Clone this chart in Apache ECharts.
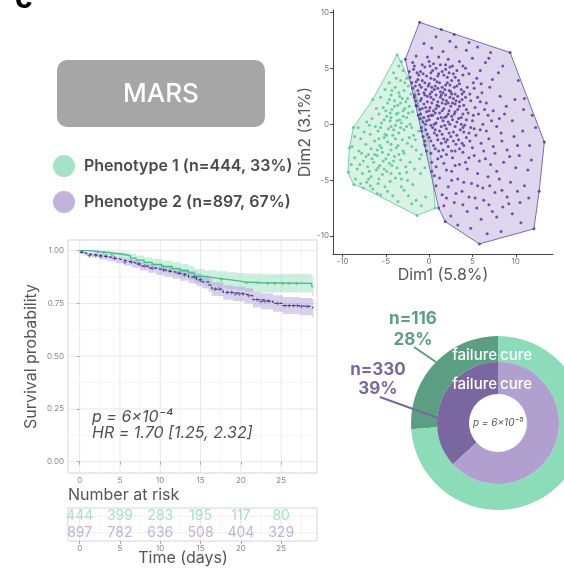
<!DOCTYPE html>
<html><head><meta charset="utf-8">
<script src="https://cdn.jsdelivr.net/npm/echarts@6/dist/echarts.min.js"></script>
<style>html,body{margin:0;padding:0;background:#fff}#c{width:564px;height:570px}</style>
</head><body><div id="c"></div>
<script>
// ---------- DATA ----------
const groupNames = ['Phenotype 1 (n=444, 33%)', 'Phenotype 2 (n=897, 67%)'];

// Scatter (Dim1, Dim2) – flat x,y lists
const greenPts = [-3.7,6.2,-3.5,5.2,-4.1,4.6,-3.0,4.8,-2.6,4.1,-3.3,3.9,-4.6,3.7,-3.9,3.3,-2.4,3.4,-5.1,3.1,-2.9,3.0,-3.5,2.8,-4.4,2.6,-2.1,2.7,-5.6,2.4,-3.1,2.3,-4.0,2.1,-2.7,2.0,-4.8,1.9,-3.6,1.7,-2.3,1.6,-5.3,1.5,-6.1,1.4,-4.3,1.3,-3.0,1.2,-1.9,1.1,-5.8,0.9,-3.8,0.9,-4.9,0.7,-2.6,0.6,-6.6,0.5,-3.4,0.4,-4.5,0.3,-7.2,0.2,-5.5,0.1,-2.2,0.0,-3.9,-0.1,-6.2,-0.2,-8.2,-0.3,-4.7,-0.4,-2.9,-0.5,-5.9,-0.6,-7.5,-0.7,-3.5,-0.8,-6.8,-0.9,-4.2,-1.0,-1.8,-1.0,-8.6,-1.1,-5.2,-1.2,-7.9,-1.3,-3.1,-1.4,-6.3,-1.5,-4.8,-1.6,-2.5,-1.7,-7.3,-1.8,-5.7,-1.9,-8.9,-2.0,-3.8,-2.1,-6.7,-2.2,-4.4,-2.3,-1.5,-2.3,-8.1,-2.4,-5.4,-2.5,-2.9,-2.6,-7.0,-2.7,-6.0,-2.8,-4.0,-2.9,-8.6,-3.0,-5.0,-3.1,-3.3,-3.2,-7.6,-3.3,-6.4,-3.4,-2.2,-3.4,-4.6,-3.5,-9.0,-3.6,-5.7,-3.7,-7.1,-3.8,-3.7,-3.9,-8.3,-4.0,-6.1,-4.1,-4.9,-4.2,-2.6,-4.3,-7.7,-4.4,-5.4,-4.5,-9.3,-4.3,-6.7,-4.7,-3.9,-4.8,-8.5,-4.9,-4.5,-5.1,-7.2,-5.2,-5.9,-5.3,-1.9,-5.4,-3.2,-5.6,-8.7,-5.4,-6.5,-5.8,-4.8,-6.0,-2.4,-6.4,-5.6,-6.3,-1.5,-6.8,-3.6,-6.9,-0.4,-6.5,-1.4,-8.15,0.7,-7.5,-9.2,-2.1,-8.75,-0.3,-6.5,2.2,-0.6,-1.8,-1.1,-3.1,-0.9,0.4,-1.3,1.9,-3.2,0.1,-4.1,-0.5,-2.0,-0.3,-5.1,-0.9,-3.6,-1.9,-6.9,-0.1,-7.8,-2.6,-4.5,1.0,-3.0,-2.4,-5.5,-2.1,-6.6,-3.1,-4.3,-3.7,-7.0,-4.9,-5.2,-4.0,-3.4,-4.4,-2.0,-2.0,-1.2,-0.6,-2.5,-5.0,-6.0,-6.2,-7.9,-5.3,-7.6,-5.7,
 -3.2,5.6,-3.8,4.1,-2.8,3.7,-4.3,3.0,-3.4,2.5,-2.5,2.3,-4.6,2.2,-3.3,1.9,-5.0,1.2,-4.0,1.6,-2.8,1.4,-3.6,1.0,-2.4,1.0,-4.4,0.6,-3.0,0.7,-5.2,0.4,-3.7,0.3,-2.6,-0.2,-4.4,-0.2,-5.6,-0.3,-3.3,-0.3,-4.9,-1.0,-3.9,-1.3,-2.3,-1.2,-5.8,-1.3,-4.4,-1.8,-6.0,-2.3,-3.5,-2.7,-4.7,-2.7,-6.3,-2.7,-5.3,-3.3,-7.3,-2.9,-4.1,-3.3,-2.7,-3.8,-5.9,-3.9,-6.9,-4.2,-4.4,-4.4,-8.0,-3.6,-3.2,-4.9,-5.8,-4.9,-5.1,-5.6,-6.8,-5.5,-2.9,-5.9,-4.2,-6.4,-2.0,-7.1,-0.9,-7.3,-1.0,-4.4,-1.7,-4.0,-0.5,-3.9,-1.6,-1.4,-0.9,-2.7];
const purplePts = [-1.8,4.9,-1.2,4.4,-0.5,5.1,0.2,4.6,0.8,5.0,1.5,4.7,2.1,4.2,-1.5,3.8,-0.8,3.9,0.0,3.6,0.6,4.0,1.2,3.7,1.9,3.5,2.6,3.9,3.2,3.4,-1.9,3.2,-1.3,3.0,-0.4,3.1,0.3,2.9,1.0,3.2,1.6,2.8,2.3,3.0,3.0,2.7,3.7,3.1,-1.7,2.4,-0.9,2.3,-0.2,2.5,0.5,2.2,1.3,2.4,2.0,2.1,2.8,2.3,3.5,2.0,4.2,2.4,-1.5,1.7,-1.4,1.6,-0.6,1.8,0.1,1.5,0.9,1.7,1.7,1.4,2.5,1.6,3.3,1.3,4.0,1.7,-1.25,0.8,-1.0,0.9,-0.3,1.1,0.4,0.8,1.2,1.0,2.0,0.7,2.9,0.9,3.7,0.6,4.5,1.0,-1.05,0.5,-0.7,0.2,0.0,0.4,0.8,0.1,1.6,0.3,2.4,0.0,3.2,0.2,4.1,-0.1,5.0,0.3,-0.85,-0.6,-0.4,-0.5,0.4,-0.3,1.2,-0.6,2.0,-0.4,2.8,-0.7,3.6,-0.5,4.6,-0.8,-0.7,-1.1,0.0,-1.2,0.9,-1.0,1.7,-1.3,2.5,-1.1,3.4,-1.4,4.3,-1.2,-0.45,-1.9,0.5,-1.9,1.4,-1.7,2.2,-2.0,3.1,-1.8,-1.0,4.7,0.5,5.4,1.9,4.9,-0.3,4.3,1.0,4.3,2.8,4.5,-1.1,3.5,0.7,3.4,2.4,3.5,0.1,2.7,1.8,3.1,-0.6,2.8,2.6,2.7,-0.2,2.0,1.0,2.0,2.2,1.9,3.0,1.8,-1.1,1.3,0.5,1.2,1.5,1.9,2.3,1.2,-0.1,0.7,1.4,0.6,2.7,0.4,0.6,-0.8,1.8,-0.1,-1.55,2.1,-1.7,2.6,-2.2,4.2,-2.0,3.7,-0.9,-0.3,0.2,-0.1,-0.5,-1.5,-0.3,-2.4,0.2,-2.6,1.1,-2.4,2.0,-2.7,0.3,3.3,1.4,2.6,0.8,1.4,-0.4,0.0,3.8,2.7,4.8,2.1,5.3,1.5,4.4,3.3,3.4,3.9,
 -1.1,9.1,1.4,8.45,0.8,7.8,2.4,7.4,-0.6,7.2,0.3,6.8,1.6,6.5,3.1,6.9,4.3,6.6,-1.5,6.1,-0.2,6.0,1.1,6.0,2.2,5.8,3.5,5.6,5.0,5.9,-2.75,5.8,-1.9,5.5,0.0,5.6,2.7,5.2,4.2,5.0,5.9,4.8,6.5,5.5,3.9,4.4,5.5,4.1,7.3,4.0,9.35,6.4,2.9,8.0,4.6,7.3,1.9,5.3,
 5.2,3.2,6.1,2.8,7.0,3.3,8.2,2.5,6.6,1.9,5.7,0.9,7.4,1.2,8.9,1.6,6.2,0.0,7.8,-0.2,9.6,0.3,10.8,-0.6,5.4,-1.0,6.9,-1.3,8.4,-1.5,9.8,-1.1,11.6,-1.9,13.3,-1.6,5.0,-2.1,6.3,-2.4,7.6,-2.6,9.0,-2.3,10.4,-2.8,3.9,-2.5,4.6,-3.0,5.8,-3.3,7.1,-3.6,8.6,-3.4,10.0,-3.9,11.4,-4.1,2.7,-3.0,3.5,-3.6,4.4,-4.0,5.6,-4.4,6.8,-4.7,8.1,-4.9,9.4,-5.2,11.0,-5.5,12.7,-6.0,1.7,-3.5,2.6,-4.2,3.3,-4.9,4.9,-5.3,6.2,-5.7,7.6,-6.1,9.0,-6.5,10.5,-7.0,1.2,-4.8,2.2,-5.6,3.8,-6.0,5.3,-6.6,6.9,-7.2,8.5,-7.4,1.1,-7.5,1.85,-8.7,2.9,-7.0,4.4,-7.8,6.0,-8.5,7.8,-8.3,9.6,-8.0,5.8,-10.7,12.1,-9.35,8.3,-9.6,3.3,-9.0,0.3,-3.4,0.8,-5.5,0.3,-4.2,1.5,-6.3,11.8,-3.2,12.3,-0.3,10.9,1.3,8.0,4.6,6.9,5.9,3.0,-2.4,4.0,-1.9,1.0,-3.1,2.1,-1.4,3.7,0.0,5.9,-0.5,4.8,-0.3,6.8,0.8,8.1,0.5,
 -1.4,4.6,-0.7,4.5,0.4,4.8,1.1,4.5,1.7,4.4,2.3,4.6,3.0,4.2,-1.3,4.0,-0.5,3.7,0.2,4.1,0.9,3.8,1.5,3.3,2.1,3.7,2.9,3.3,3.5,3.6,-1.6,3.4,-0.9,3.3,-0.1,3.4,0.6,3.1,1.3,2.9,1.9,2.6,2.5,2.9,3.3,2.5,4.0,2.9,-1.2,2.7,-0.5,2.6,0.2,2.4,0.8,2.6,1.6,2.2,2.4,2.4,3.1,2.1,3.8,2.2,-1.0,2.1,-0.4,1.5,0.3,1.9,1.1,1.6,1.9,1.8,2.7,1.9,3.5,1.6,4.3,1.3,-0.8,1.4,0.0,1.2,0.7,1.0,1.5,1.2,2.2,0.9,3.0,1.1,3.9,0.9,-0.6,0.6,0.2,0.8,1.0,0.5,1.8,0.6,2.6,0.7,3.4,0.5,4.3,0.4,-0.3,0.3,0.6,0.0,1.4,-0.2,2.2,0.2,3.0,-0.2,3.9,-0.3,5.2,-0.4,-0.2,-0.9,0.7,-0.5,1.5,-0.9,2.3,-0.8,3.2,-1.0,4.0,-0.7,0.2,-1.5,1.0,-1.4,1.9,-1.6,2.8,-1.5,3.8,-1.7,4.7,-1.5,0.7,-2.2,1.6,-2.3,2.6,-2.4,3.5,-2.2,-0.8,5.3,0.1,5.2,1.3,5.3,2.4,5.1,3.2,4.8,3.9,5.2,-1.7,5.2,-2.3,4.7,4.6,4.5,5.1,3.7,4.7,2.7,5.6,2.4,6.0,3.6,6.4,1.3,5.9,2.0,5.1,0.8,6.6,-0.6,7.2,0.3,6.0,-1.7,7.4,-2.0,8.3,-0.8,8.7,0.9,9.3,-2.9,7.8,-4.2,6.5,-3.1,5.2,-2.8,4.2,-3.4,3.0,-3.7,2.0,-4.1,1.4,-2.9,0.8,-3.8,0.6,-4.6,2.6,-5.0,4.0,-5.2,5.6,-5.5,7.0,-5.5,8.4,-5.9,3.1,-6.2,4.6,-6.5,6.3,-6.8,2.0,-6.6,1.7,-7.3,3.9,-7.2,5.5,-7.5,7.3,-7.8,9.2,-7.1,10.2,-6.0,11.5,-6.6,2.5,-8.2,4.8,-9.3,6.7,-9.8,10.6,-8.8,7.1,6.4,5.6,6.9,8.5,5.2,10.3,3.9,11.0,2.3,11.9,0.8,9.9,2.2,10.2,-1.9];
const greenHull = [[-3.7,6.2],[-6.5,2.2],[-8.75,-0.3],[-9.2,-2.1],[-9.4,-4.3],[-8.7,-5.4],[-7.6,-5.7],[-1.4,-8.15],[0.7,-7.5],[0.1,-2.1],[-1.6,2.9]];
const purpleHull = [[-1.1,9.1],[1.4,8.45],[9.35,6.4],[13.3,-1.6],[12.7,-6.0],[12.1,-9.35],[5.8,-10.7],[1.85,-8.7],[1.1,-7.5],[-2.75,5.8]];
const dimTicks = [-10, -5, 0, 5, 10];

// Kaplan-Meier
const kmTimes1 = [0, 1.2, 2.5, 4.0, 5.5, 6.3, 7.0, 8.0, 9.0, 10.2, 11.5, 12.5, 13.5, 14.2, 15.5, 17.0, 18.3, 19.5, 20.5, 22.5, 28.8, 29];
const kmSurv1  = [1.0, 0.995, 0.99, 0.982, 0.975, 0.965, 0.955, 0.945, 0.935, 0.925, 0.915, 0.905, 0.895, 0.878, 0.87, 0.864, 0.858, 0.852, 0.848, 0.845, 0.83, 0.83];
const kmLow1   = [1.0, 0.99, 0.98, 0.968, 0.958, 0.946, 0.934, 0.922, 0.91, 0.898, 0.886, 0.874, 0.862, 0.843, 0.834, 0.826, 0.819, 0.812, 0.806, 0.802, 0.785, 0.785];
const kmUp1    = [1.0, 1.0, 1.0, 0.995, 0.992, 0.985, 0.977, 0.969, 0.961, 0.953, 0.945, 0.937, 0.929, 0.914, 0.907, 0.903, 0.898, 0.894, 0.892, 0.89, 0.878, 0.878];
const kmTimes2 = [0, 0.5, 1.0, 2.5, 3.5, 4.5, 5.5, 6.5, 7.5, 8.5, 9.5, 10.5, 11.5, 12.5, 13.5, 14.5, 15.2, 16.0, 16.4, 17.8, 19.0, 20.5, 21.5, 22.5, 24.0, 25.2, 27.3, 28.8, 29];
const kmSurv2  = [0.993, 0.985, 0.978, 0.972, 0.964, 0.955, 0.946, 0.937, 0.927, 0.917, 0.909, 0.902, 0.893, 0.885, 0.875, 0.862, 0.852, 0.837, 0.818, 0.802, 0.795, 0.786, 0.768, 0.76, 0.75, 0.74, 0.735, 0.728, 0.728];
const kmLow2   = [0.987, 0.977, 0.968, 0.96, 0.95, 0.94, 0.929, 0.918, 0.906, 0.895, 0.885, 0.877, 0.867, 0.857, 0.846, 0.832, 0.821, 0.805, 0.785, 0.768, 0.76, 0.75, 0.731, 0.722, 0.711, 0.7, 0.694, 0.686, 0.686];
const kmUp2    = [0.999, 0.993, 0.988, 0.984, 0.978, 0.97, 0.963, 0.956, 0.948, 0.939, 0.933, 0.927, 0.919, 0.913, 0.904, 0.892, 0.883, 0.869, 0.851, 0.836, 0.83, 0.822, 0.805, 0.798, 0.789, 0.78, 0.776, 0.77, 0.77];
const censor1 = [2.2, 3.0, 4.0, 14.8, 17.6, 20.7, 22.1, 23.3, 24.2, 25.2, 26.0, 26.9];
const censor2 = [0.3, 1.2, 2.0, 2.6, 3.3, 4.3, 5.6, 6.4, 7.3, 8.1, 9.0, 10.4, 11.2, 12.3, 13.0, 14.3, 15.0, 16.8, 17.3, 18.3, 18.8, 19.3, 19.8, 20.3, 21.0, 22.0, 22.5, 23.0, 23.5, 24.6, 25.5, 26.0, 26.5, 27.0, 27.5, 28.2];
const dayTicks = [0, 5, 10, 15, 20, 25];
const dayMinor = [2.5, 7.5, 12.5, 17.5, 22.5, 27.5];
const survTicks = [0, 0.25, 0.5, 0.75, 1.0];
const survMinor = [0.125, 0.375, 0.625, 0.875];

// Number at risk
const riskP1 = [444, 399, 283, 195, 117, 80];
const riskP2 = [897, 782, 636, 508, 404, 329];

// Donut: outcome counts (failure, cure) and printed labels
const outcomeNames = ['failure', 'cure'];
const outerCounts = [116, 328];   // phenotype 1
const innerCounts = [330, 567];   // phenotype 2
const outerLabel = ['n=116', '28%'];
const innerLabel = ['n=330', '39%'];

// ---------- CHART ----------
const FONT = 'Inter, "Noto Sans", sans-serif';
const C = {
  g: '#8ddcb9', gDark: '#5b9e82', gPt: '#4cc48e', gLine: '#3fbf86',
  p: '#b1a0cf', pDark: '#7a679f', pPt: '#4f3197', pLine: '#4b3294',
  txt: '#555', tick: '#888'
};
const pairs = a => { const r = []; for (let i = 0; i < a.length; i += 2) r.push([a[i], a[i + 1]]); return r; };
const stepPts = (t, v) => { const r = []; for (let i = 0; i < t.length; i++) { r.push([t[i], v[i]]); if (i + 1 < t.length) r.push([t[i + 1], v[i]]); } return r; };
const survAt = (t, v, x) => { let k = 0; for (let i = 0; i < t.length; i++) if (t[i] <= x) k = i; return v[k]; };

function polySeries(xi, yi, pts, fill, stroke, z) {
  return { type: 'custom', xAxisIndex: xi, yAxisIndex: yi, silent: true, z, data: [[0, 0]], clip: false,
    renderItem: (params, api) => ({ type: 'polygon', shape: { points: pts.map(p => api.coord(p)) },
      style: { fill, stroke, lineWidth: stroke ? 1 : 0 } }) };
}
function bandPoly(t, lo, up) { return stepPts(t, up).concat(stepPts(t, lo).reverse()); }
function gridLines(xi, yi, vals, dir, xr, yr, color, z) {
  return { type: 'custom', xAxisIndex: xi, yAxisIndex: yi, silent: true, z, data: vals.map(v => [v, v]),
    renderItem: (params, api) => {
      const v = api.value(0);
      const a = dir === 'h' ? api.coord([xr[0], v]) : api.coord([v, yr[0]]);
      const b = dir === 'h' ? api.coord([xr[1], v]) : api.coord([v, yr[1]]);
      return { type: 'line', shape: { x1: a[0], y1: a[1], x2: b[0], y2: b[1] }, style: { stroke: color, lineWidth: 1 } };
    } };
}
const KMX = [-1.45, 29.45], KMY = [-0.0536, 1.0507];
const plusSym = 'path://M4,0H6V4H10V6H6V10H4V6H0V4H4Z';

const chart = echarts.init(document.getElementById('c'), null, { renderer: 'canvas' });
const option = {
  animation: false,
  textStyle: { fontFamily: FONT },
  legend: {
    orient: 'vertical', left: 53, top: 155, padding: 0, itemWidth: 22, itemHeight: 22, itemGap: 14,
    icon: 'circle', selectedMode: false,
    textStyle: { fontSize: 16, fontWeight: 600, color: '#4a4a4a', fontFamily: FONT, padding: [0, 0, 0, 4] },
    data: [{ name: groupNames[0], itemStyle: { color: C.g } }, { name: groupNames[1], itemStyle: { color: C.p } }]
  },
  grid: [
    { left: 333, top: 10, width: 220, height: 244 },
    { left: 68, top: 240, width: 249, height: 233, show: true, borderColor: '#d4d4d4', borderWidth: 1 },
    { left: 68, top: 508, width: 249, height: 33, show: true, borderColor: '#d4d4d4', borderWidth: 1 }
  ],
  xAxis: [
    { gridIndex: 0, type: 'value', min: -11.1, max: 14.3, splitLine: { show: false },
      axisLine: { onZero: false, lineStyle: { color: '#444' } },
      axisTick: { length: 3, customValues: dimTicks, lineStyle: { color: '#444' } },
      axisLabel: { customValues: dimTicks, fontSize: 8, color: '#777', margin: 4 },
      name: 'Dim1 (5.8%)', nameLocation: 'middle', nameGap: 11, nameTextStyle: { fontSize: 16, color: C.txt, fontFamily: FONT } },
    { gridIndex: 1, type: 'value', min: KMX[0], max: KMX[1], splitLine: { show: false }, axisLine: { show: false },
      axisTick: { length: 3, customValues: dayTicks, lineStyle: { color: '#aaa' } },
      axisLabel: { customValues: dayTicks, fontSize: 8, color: C.tick, margin: 4 } },
    { gridIndex: 2, type: 'value', min: KMX[0], max: KMX[1], splitLine: { show: false }, axisLine: { show: false },
      axisTick: { length: 3, customValues: dayTicks, lineStyle: { color: '#aaa' } },
      axisLabel: { customValues: dayTicks, fontSize: 8, color: C.tick, margin: 4 } }
  ],
  yAxis: [
    { gridIndex: 0, type: 'value', min: -11.6, max: 10.2, splitLine: { show: false },
      axisLine: { onZero: false, lineStyle: { color: '#444' } },
      axisTick: { length: 3, customValues: dimTicks, lineStyle: { color: '#444' } },
      axisLabel: { customValues: dimTicks, fontSize: 8, color: '#777', margin: 4 },
      name: 'Dim2 (3.1%)', nameLocation: 'middle', nameGap: 14, nameTextStyle: { fontSize: 16, color: C.txt, fontFamily: FONT } },
    { gridIndex: 1, type: 'value', min: KMY[0], max: KMY[1], splitLine: { show: false }, axisLine: { show: false },
      axisTick: { length: 3, customValues: survTicks, lineStyle: { color: '#aaa' } },
      axisLabel: { customValues: survTicks, fontSize: 8, color: C.tick, margin: 4, formatter: v => v.toFixed(2) },
      name: 'Survival probability', nameLocation: 'middle', nameGap: 29, nameTextStyle: { fontSize: 16, color: C.txt, fontFamily: FONT } },
    { gridIndex: 2, type: 'value', min: 0, max: 2, splitLine: { show: false }, axisLine: { show: false },
      axisTick: { show: false }, axisLabel: { show: false } }
  ],
  series: [
    // scatter panel
    polySeries(0, 0, greenHull, 'rgba(125,214,172,0.3)', '#74d2a6', 1),
    { name: groupNames[0], type: 'scatter', xAxisIndex: 0, yAxisIndex: 0, z: 2, symbolSize: 3,
      itemStyle: { color: C.gPt }, data: pairs(greenPts) },
    polySeries(0, 0, purpleHull, 'rgba(165,148,205,0.38)', '#7c69b4', 3),
    { name: groupNames[1], type: 'scatter', xAxisIndex: 0, yAxisIndex: 0, z: 4, symbolSize: 3,
      itemStyle: { color: C.pPt }, data: pairs(purplePts) },
    // KM grid lines
    gridLines(1, 1, survMinor, 'h', KMX, KMY, '#f4f4f4', 0),
    gridLines(1, 1, dayMinor, 'v', KMX, KMY, '#f4f4f4', 0),
    gridLines(1, 1, survTicks, 'h', KMX, KMY, '#e8e8e8', 0),
    gridLines(1, 1, dayTicks, 'v', KMX, KMY, '#e8e8e8', 0),
    // KM bands
    polySeries(1, 1, bandPoly(kmTimes1, kmLow1, kmUp1), 'rgba(141,220,185,0.45)', null, 1),
    polySeries(1, 1, bandPoly(kmTimes2, kmLow2, kmUp2), 'rgba(170,150,210,0.45)', null, 1),
    { type: 'line', xAxisIndex: 1, yAxisIndex: 1, step: 'end', symbol: 'none', z: 3, silent: true,
      lineStyle: { color: C.gLine, width: 1.3 }, data: kmTimes1.map((t, i) => [t, kmSurv1[i]]) },
    { type: 'line', xAxisIndex: 1, yAxisIndex: 1, step: 'end', symbol: 'none', z: 3, silent: true,
      lineStyle: { color: C.pLine, width: 1.3, type: [3, 2] }, data: kmTimes2.map((t, i) => [t, kmSurv2[i]]) },
    { type: 'scatter', xAxisIndex: 1, yAxisIndex: 1, z: 4, silent: true, symbol: plusSym, symbolSize: 4,
      itemStyle: { color: C.gLine }, data: censor1.map(t => [t, survAt(kmTimes1, kmSurv1, t)]) },
    { type: 'scatter', xAxisIndex: 1, yAxisIndex: 1, z: 4, silent: true, symbol: plusSym, symbolSize: 4,
      itemStyle: { color: C.pLine }, data: censor2.map(t => [t, survAt(kmTimes2, kmSurv2, t)]) },
    // risk table
    gridLines(2, 2, dayMinor, 'v', KMX, [0, 2], '#f4f4f4', 0),
    gridLines(2, 2, dayTicks, 'v', KMX, [0, 2], '#e8e8e8', 0),
    gridLines(2, 2, [0.5, 1.5], 'h', KMX, [0, 2], '#eeeeee', 0),
    { type: 'scatter', xAxisIndex: 2, yAxisIndex: 2, z: 3, silent: true, symbolSize: 1, itemStyle: { color: 'rgba(0,0,0,0)' },
      label: { show: true, position: 'inside', formatter: p => p.value[2], fontSize: 14, color: C.g, fontFamily: FONT },
      data: dayTicks.map((d, i) => [d, 1.5, riskP1[i]]) },
    { type: 'scatter', xAxisIndex: 2, yAxisIndex: 2, z: 3, silent: true, symbolSize: 1, itemStyle: { color: 'rgba(0,0,0,0)' },
      label: { show: true, position: 'inside', formatter: p => p.value[2], fontSize: 14, color: C.p, fontFamily: FONT },
      data: dayTicks.map((d, i) => [d, 0.5, riskP2[i]]) },
    // donut
    { type: 'pie', center: [498, 423], radius: [61, 87], startAngle: 90, clockwise: false, silent: true,
      label: { show: false }, labelLine: { show: false },
      data: outcomeNames.map((n, i) => ({ name: n, value: outerCounts[i], itemStyle: { color: i === 0 ? C.gDark : C.g } })) },
    { type: 'pie', center: [498, 423], radius: [29, 61], startAngle: 90, clockwise: false, silent: true,
      label: { show: false }, labelLine: { show: false },
      data: outcomeNames.map((n, i) => ({ name: n, value: innerCounts[i], itemStyle: { color: i === 0 ? C.pDark : C.p } })) }
  ],
  graphic: [
    { type: 'text', left: 15, top: -16, style: { text: 'c', fontSize: 30, fontWeight: 'bold', fill: '#000', fontFamily: FONT } },
    { type: 'rect', shape: { x: 57, y: 60, width: 208, height: 67, r: 10 }, style: { fill: '#a6a6a6' } },
    { type: 'text', x: 161, y: 94, style: { text: 'MARS', fontSize: 26, fontWeight: 500, fill: '#fff', align: 'center', verticalAlign: 'middle', fontFamily: FONT } },
    { type: 'text', x: 92, y: 417, z: 100, style: { text: 'p = 6×10⁻⁴', fontSize: 16, fontStyle: 'italic', fill: '#505050', verticalAlign: 'middle', fontFamily: FONT } },
    { type: 'text', x: 92, y: 433, z: 100, style: { text: 'HR = 1.70 [1.25, 2.32]', fontSize: 16, fontStyle: 'italic', fill: '#505050', verticalAlign: 'middle', fontFamily: FONT } },
    { type: 'text', x: 68, y: 495, style: { text: 'Number at risk', fontSize: 16, fill: C.txt, verticalAlign: 'middle', fontFamily: FONT } },
    { type: 'text', x: 183, y: 558, style: { text: 'Time (days)', fontSize: 16, fill: C.txt, align: 'center', verticalAlign: 'middle', fontFamily: FONT } },
    // donut annotations
    { type: 'text', x: 497, y: 355, z: 100, style: { text: outcomeNames[0], fontSize: 15, fontWeight: 500, fill: '#fff', align: 'right', verticalAlign: 'middle', fontFamily: FONT } },
    { type: 'text', x: 500, y: 355, z: 100, style: { text: outcomeNames[1], fontSize: 15, fontWeight: 500, fill: '#fff', align: 'left', verticalAlign: 'middle', fontFamily: FONT } },
    { type: 'text', x: 497, y: 384, z: 100, style: { text: outcomeNames[0], fontSize: 15, fontWeight: 500, fill: '#fff', align: 'right', verticalAlign: 'middle', fontFamily: FONT } },
    { type: 'text', x: 500, y: 384, z: 100, style: { text: outcomeNames[1], fontSize: 15, fontWeight: 500, fill: '#fff', align: 'left', verticalAlign: 'middle', fontFamily: FONT } },
    { type: 'text', x: 498, y: 423, z: 100, style: { text: 'p = 6×10⁻⁵', fontSize: 10, fontStyle: 'italic', fill: '#555', align: 'center', verticalAlign: 'middle', fontFamily: FONT } },
    { type: 'text', x: 413, y: 329, z: 100, style: { text: outerLabel.join('\n'), fontSize: 17, fontWeight: 700, lineHeight: 21, fill: C.gDark, align: 'center', verticalAlign: 'middle', fontFamily: FONT } },
    { type: 'line', z: 100, shape: { x1: 414, y1: 347, x2: 436, y2: 362 }, style: { stroke: C.gDark, lineWidth: 2 } },
    { type: 'text', x: 378, y: 379, z: 100, style: { text: innerLabel.join('\n'), fontSize: 17, fontWeight: 700, lineHeight: 19, fill: C.pDark, align: 'center', verticalAlign: 'middle', fontFamily: FONT } },
    { type: 'line', z: 100, shape: { x1: 380, y1: 397, x2: 438, y2: 418 }, style: { stroke: C.pDark, lineWidth: 2 } }
  ]
};
chart.setOption(option);
</script></body></html>
